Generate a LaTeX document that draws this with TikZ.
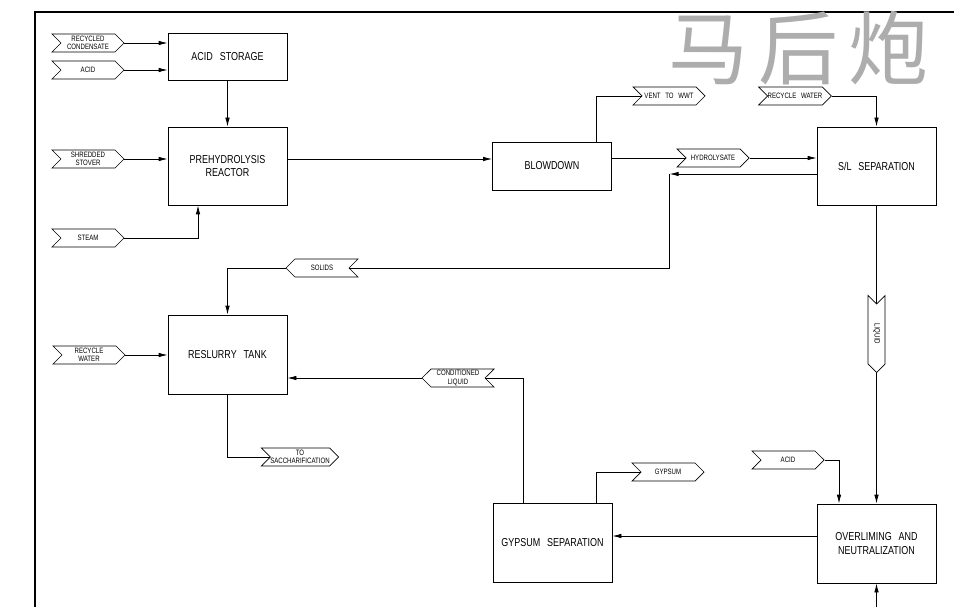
\documentclass[tikz,border=0pt]{standalone}
\usepackage{fontspec}
\newfontfamily\cadfont{Liberation Sans}[FakeStretch=0.78]
\newfontfamily\cjkfont{Noto Sans CJK SC}
\usetikzlibrary{arrows.meta,shapes.symbols,calc}
\newcommand{\wsp}{\hspace{0.6em}}
\begin{document}
\begin{tikzpicture}[x=1pt,y=-1pt,
  every node/.style={inner sep=0pt},
  unit/.style={draw, line width=0.8pt, minimum width=119pt, minimum height=78pt,
    font=\cadfont\fontsize{11.5}{13.5}\selectfont, align=center},
  tagr/.style={draw, shape=signal, signal to=east, signal from=west,
    minimum width=72pt, minimum height=18pt,
    font=\cadfont\fontsize{7.8}{8.2}\selectfont, align=center, line width=0.7pt},
  tagl/.style={tagr, signal to=west, signal from=east},
  flow/.style={line width=0.8pt},
  arr/.style={flow, -{Latex[length=9pt,width=4.5pt]}},
]
\useasboundingbox (0,0) rectangle (954,607);
\draw[line width=2.5pt] (35,607) -- (35,12) -- (954,12);

\node[text=black!32, font=\cjkfont\fontsize{80}{80}\selectfont] (wm) at (798,48) {马\hspace{10pt}后\hspace{10pt}炮};

% units
\node[unit, minimum height=47pt] (acid) at (227.5,56.5) {ACID\wsp STORAGE};
\node[unit] (prehyd) at (227.5,166) {PREHYDROLYSIS\\REACTOR};
\node[unit, minimum height=48pt] (blow) at (552,166) {BLOWDOWN};
\node[unit] (sl) at (876.5,166) {S/L\wsp SEPARATION};
\node[unit, minimum height=79pt] (reslurry) at (227.5,354.5) {RESLURRY\wsp TANK};
\node[unit, minimum height=79pt] (gyp) at (552.5,542.5) {GYPSUM\wsp SEPARATION};
\node[unit, minimum height=79pt] (over) at (876.5,543.5) {OVERLIMING\wsp AND\\NEUTRALIZATION};

% tags
\node[tagr] (trc) at (88,43) {RECYCLED\\CONDENSATE};
\node[tagr] (tacid1) at (88,70) {ACID};
\node[tagr] (tstover) at (88,159) {SHREDDED\\STOVER};
\node[tagr] (tsteam) at (88,238) {STEAM};
\node[tagr] (tvent) at (669,96) {VENT\wsp TO\wsp WWT};
\node[tagr] (trw1) at (795,96) {RECYCLE\wsp WATER};
\node[tagr] (thyd) at (713,158) {HYDROLYSATE};
\node[tagl] (tsolids) at (322,268) {SOLIDS};
\node[tagr] (trw2) at (89,355) {RECYCLE\\WATER};
\node[tagr] (tsacc) at (300,457) {TO\\SACCHARIFICATION};
\node[tagl] (tcond) at (458,378) {CONDITIONED\\LIQUID};
\node[tagr] (tgyps) at (668,472) {GYPSUM};
\node[tagr] (tacid2) at (788,460) {ACID};
\node[tagr, rotate=-90, minimum width=77pt, minimum height=17pt] (tliq) at (876.5,334) {LIQUID};

% connectors
\draw[arr] (trc.east) -- (trc.east -| acid.west);
\draw[arr] (tacid1.east) -- (tacid1.east -| acid.west);
\draw[arr] (acid.south) -- (prehyd.north);
\draw[arr] (tstover.east) -- (tstover.east -| prehyd.west);
\draw[arr] (tsteam.east) -| ($(prehyd.south)+(-29.5,0)$);
\coordinate (r1) at ($(prehyd.east)+(0,-7)$);
\draw[arr] (r1) -- (r1 -| blow.west);
\draw[flow] ($(blow.north)+(44,0)$) |- (tvent.west);
\draw[flow] (blow.east |- thyd.west) -- (thyd.west);
\draw[arr] (thyd.east) -- (thyd.east -| sl.west);
\coordinate (slret) at ($(sl.west)+(0,8)$);
\coordinate (c1) at ($(slret)+(-147,0)$);
\draw[arr] (slret) -- (c1);
\draw[flow] (c1) |- (tsolids.east);
\draw[arr] (tsolids.west) -| (reslurry.north);
\draw[arr] (trw2.east) -- (trw2.east -| reslurry.west);
\draw[flow] ($(gyp.north)+(-29.5,0)$) |- (tcond.east);
\draw[arr] (tcond.west) -- (tcond.west -| reslurry.east);
\draw[flow] (reslurry.south) |- (tsacc.west);
\draw[arr] (trw1.east) -| (sl.north);
\draw[flow] (sl.south) -- (tliq.west);
\draw[arr] (tliq.east) -- (over.north);
\draw[arr] (tacid2.east) -| ($(over.north)+(-37.5,0)$);
\coordinate (o1) at ($(over.west)+(0,-7.5)$);
\draw[arr] (o1) -- (o1 -| gyp.east);
\draw[flow] ($(gyp.north)+(43.5,0)$) |- (tgyps.west);
\coordinate (bot) at (876.5,607);
\draw[arr] (bot) -- (over.south);
\end{tikzpicture}
\end{document}
